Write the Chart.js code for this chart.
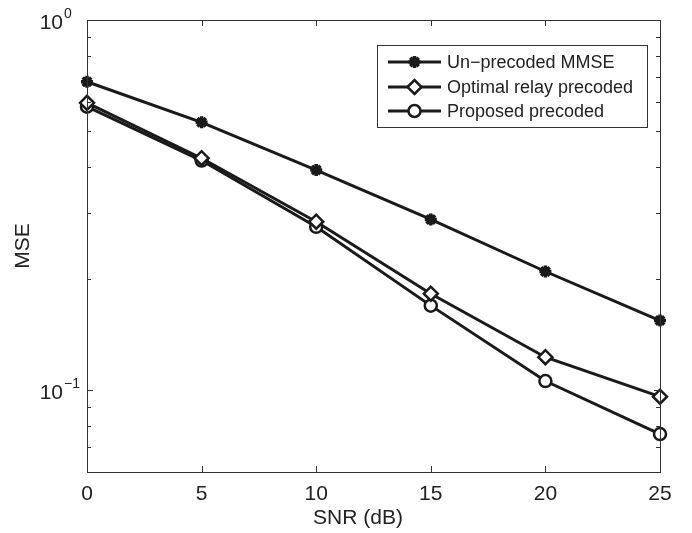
<!DOCTYPE html>
<html>
<head>
<meta charset="utf-8">
<script src="https://cdn.jsdelivr.net/npm/chart.js@4/dist/chart.umd.min.js"></script>
<style>
  html, body { margin: 0; padding: 0; background: #fff; }
  #wrap { width: 692px; height: 533px; }
</style>
</head>
<body>
<div id="wrap"><canvas id="c" width="692" height="533"></canvas></div>
<script>
// SNR points (dB)
const snrDb = [0, 5, 10, 15, 20, 25];
// MSE per scheme
const mseUnprecoded = [0.681, 0.529, 0.393, 0.289, 0.209, 0.154];
const mseOptimalRelay = [0.597, 0.423, 0.285, 0.182, 0.1226, 0.0959];
const mseProposed = [0.583, 0.417, 0.276, 0.169, 0.1057, 0.0760];
const seriesNames = ['Un\u2212precoded MMSE', 'Optimal relay precoded', 'Proposed precoded'];
// axis ticks
const xTicks = [0, 5, 10, 15, 20, 25];
const yTicks = [0.06, 0.07, 0.08, 0.09, 0.1, 0.2, 0.3, 0.4, 0.5, 0.6, 0.7, 0.8, 0.9, 1];
const yDecades = [{ value: 0.1, exp: '\u22121' }, { value: 1, exp: '0' }];
const xTitle = 'SNR (dB)';

const INK = '#1a1a1a';
const AXIS = '#333';
const FONT = '"Liberation Sans", Arial, sans-serif';

function toXY(vals) { return vals.map((v, i) => ({ x: snrDb[i], y: v })); }

// Box, inward tick marks, decade labels, x title and the legend
const framePlugin = {
  id: 'frame',
  afterDatasetsDraw(chart) {
    const ctx = chart.ctx;
    const a = chart.chartArea;
    const xs = chart.scales.x, ys = chart.scales.y;
    ctx.save();
    ctx.strokeStyle = AXIS;
    ctx.lineWidth = 1;
    ctx.strokeRect(Math.round(a.left) + 0.5, Math.round(a.top) + 0.5,
      Math.round(a.right - a.left), Math.round(a.bottom - a.top));
    ctx.beginPath();
    xTicks.forEach(t => {
      const px = Math.round(xs.getPixelForValue(t)) + 0.5;
      ctx.moveTo(px, a.bottom); ctx.lineTo(px, a.bottom - 6);
      ctx.moveTo(px, a.top); ctx.lineTo(px, a.top + 6);
    });
    yTicks.forEach(t => {
      const py = Math.round(ys.getPixelForValue(t)) + 0.5;
      const len = yDecades.some(d => d.value === t) ? 6 : 4;
      ctx.moveTo(a.left, py); ctx.lineTo(a.left + len, py);
      ctx.moveTo(a.right, py); ctx.lineTo(a.right - len, py);
    });
    ctx.stroke();

    // decade labels 10^k
    ctx.fillStyle = '#222';
    yDecades.forEach(d => {
      const py = ys.getPixelForValue(d.value);
      ctx.font = '21px ' + FONT;
      ctx.textAlign = 'right';
      ctx.textBaseline = 'alphabetic';
      ctx.fillText('10', 63, py + 9);
      ctx.font = '14px ' + FONT;
      ctx.textAlign = 'left';
      ctx.fillText(d.exp, 64, py - 2);
    });

    // x axis title
    ctx.font = '21px ' + FONT;
    ctx.textAlign = 'center';
    ctx.textBaseline = 'alphabetic';
    ctx.fillText(xTitle, 358, 524);

    // legend
    const lx = 377, ly = 45, lw = 270, lh = 82;
    ctx.fillStyle = '#fff';
    ctx.fillRect(lx, ly, lw, lh);
    ctx.strokeStyle = AXIS;
    ctx.lineWidth = 1;
    ctx.strokeRect(lx + 0.5, ly + 0.5, lw, lh);
    const rows = [62, 87, 111];
    chart.data.datasets.forEach((ds, i) => {
      const y = rows[i];
      ctx.strokeStyle = INK;
      ctx.lineWidth = 3;
      ctx.beginPath();
      ctx.moveTo(388, y); ctx.lineTo(441, y);
      ctx.stroke();
      ctx.fillStyle = ds.pointBackgroundColor;
      ctx.strokeStyle = INK;
      ctx.lineWidth = ds.pointBorderWidth;
      Chart.helpers.drawPoint(ctx, {
        pointStyle: ds.pointStyle, radius: ds.pointRadius,
        borderWidth: ds.pointBorderWidth, rotation: 0
      }, 414.5, y);
      ctx.fillStyle = '#222';
      ctx.font = '18px ' + FONT;
      ctx.textAlign = 'left';
      ctx.textBaseline = 'middle';
      ctx.fillText(ds.label, 447, y + 1);
    });
    ctx.restore();
  }
};

new Chart(document.getElementById('c'), {
  type: 'line',
  data: {
    datasets: [
      {
        label: seriesNames[0], data: toXY(mseUnprecoded),
        borderColor: INK, borderWidth: 3, pointStyle: 'star', pointRadius: 6,
        pointBorderWidth: 3.5, pointBackgroundColor: INK, pointBorderColor: INK, clip: false
      },
      {
        label: seriesNames[1], data: toXY(mseOptimalRelay),
        borderColor: INK, borderWidth: 3, pointStyle: 'rectRot', pointRadius: 7,
        pointBorderWidth: 2.5, pointBackgroundColor: '#fff', pointBorderColor: INK, clip: false
      },
      {
        label: seriesNames[2], data: toXY(mseProposed),
        borderColor: INK, borderWidth: 3, pointStyle: 'circle', pointRadius: 6,
        pointBorderWidth: 2.5, pointBackgroundColor: '#fff', pointBorderColor: INK, clip: false
      }
    ]
  },
  options: {
    responsive: false,
    animation: false,
    events: [],
    layout: { padding: { top: 20, right: 32, left: 0, bottom: 0 } },
    plugins: { legend: { display: false }, tooltip: { enabled: false } },
    scales: {
      x: {
        type: 'linear', min: 0, max: 25,
        afterBuildTicks(s) { s.ticks = xTicks.map(v => ({ value: v })); },
        afterFit(s) { s.height = 61; },
        grid: { display: false }, border: { display: false },
        ticks: { color: '#222', font: { size: 21, family: FONT }, padding: 2, maxRotation: 0 },
        title: { display: false }
      },
      y: {
        type: 'logarithmic', min: 0.06, max: 1,
        afterFit(s) { s.width = 87; },
        grid: { display: false }, border: { display: false },
        ticks: { display: false },
        title: { display: true, text: 'MSE', color: '#222', font: { size: 21, family: FONT }, padding: { top: 11, bottom: 0 } }
      }
    }
  },
  plugins: [framePlugin]
});
</script>
</body>
</html>
